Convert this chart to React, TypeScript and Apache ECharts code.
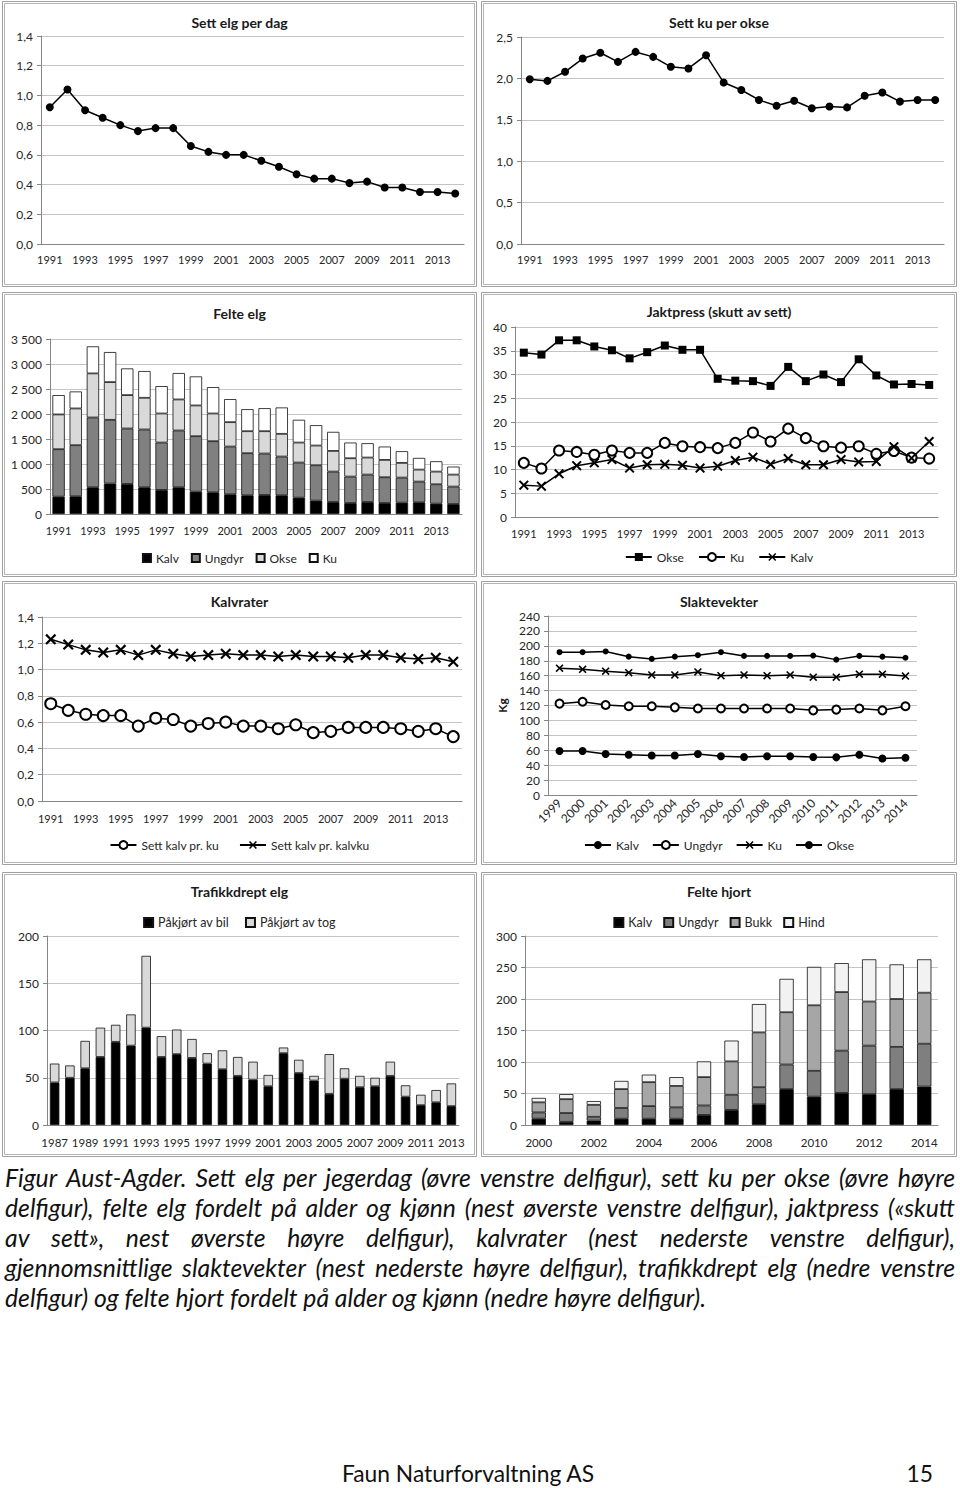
import React, { useEffect, useRef } from "react";
import * as echarts from "echarts";

const FONT = "Lato, 'Open Sans', 'DejaVu Sans', sans-serif";
const TXT = "#262626";
const AXIS = "#868686";
const GRIDC = "#c4c4c4";

// ---------- categories ----------
const years91 = ["1991","1992","1993","1994","1995","1996","1997","1998","1999","2000","2001","2002","2003","2004","2005","2006","2007","2008","2009","2010","2011","2012","2013","2014"];
const years87 = ["1987","1988","1989","1990","1991","1992","1993","1994","1995","1996","1997","1998","1999","2000","2001","2002","2003","2004","2005","2006","2007","2008","2009","2010","2011","2012","2013"];
const years99 = ["1999","2000","2001","2002","2003","2004","2005","2006","2007","2008","2009","2010","2011","2012","2013","2014"];
const years00 = ["2000","2001","2002","2003","2004","2005","2006","2007","2008","2009","2010","2011","2012","2013","2014"];

// ---------- Sett elg per dag ----------
const settElgPerDag = [0.92,1.04,0.90,0.85,0.80,0.76,0.78,0.78,0.66,0.62,0.60,0.60,0.56,0.52,0.47,0.44,0.44,0.41,0.42,0.38,0.38,0.35,0.35,0.34];
// ---------- Sett ku per okse ----------
const settKuPerOkse = [1.99,1.97,2.08,2.24,2.31,2.20,2.32,2.26,2.14,2.12,2.28,1.95,1.86,1.74,1.67,1.73,1.64,1.66,1.65,1.79,1.83,1.72,1.74,1.74];

// ---------- Felte elg ----------
const felteKalv = [347,354,534,608,601,534,481,534,447,434,394,374,381,374,327,267,240,220,240,220,227,234,207,200];
const felteUngdyr = [949,1022,1396,1275,1109,1156,948,1136,1109,1022,955,842,828,775,702,708,608,528,548,515,501,414,387,348];
const felteOkse = [695,735,882,755,668,634,581,621,615,554,488,440,447,454,400,394,414,367,341,347,294,240,254,240];
const felteKu = [387,340,541,601,534,535,548,528,581,528,461,441,461,528,455,408,381,314,287,267,234,234,207,160];

// ---------- Jaktpress ----------
const jpOkse = [34.6,34.2,37.2,37.2,35.9,35.1,33.4,34.7,36.1,35.2,35.2,29.1,28.7,28.6,27.6,31.6,28.6,30.0,28.4,33.2,29.8,27.9,28.0,27.8];
const jpKu = [11.4,10.2,14.0,13.7,13.1,14.0,13.5,13.5,15.6,14.9,14.7,14.5,15.6,17.8,15.9,18.6,16.6,14.9,14.6,14.9,13.3,13.9,12.5,12.3];
const jpKalv = [6.7,6.5,9.1,10.8,11.4,12.1,10.3,11.0,11.1,10.9,10.3,10.7,11.9,12.6,11.1,12.3,11.0,11.0,12.1,11.6,11.7,14.8,12.4,15.9];

// ---------- Kalvrater ----------
const kalvPerKu = [0.74,0.69,0.66,0.65,0.65,0.57,0.63,0.62,0.57,0.59,0.60,0.57,0.57,0.55,0.58,0.52,0.53,0.56,0.56,0.56,0.55,0.53,0.55,0.49];
const kalvPerKalvku = [1.23,1.19,1.15,1.13,1.15,1.11,1.15,1.12,1.10,1.11,1.12,1.11,1.11,1.10,1.11,1.10,1.10,1.09,1.11,1.11,1.09,1.08,1.09,1.06];

// ---------- Slaktevekter ----------
const kgKalv = [59,59,55,54,53,53,55,52,51,52,52,51,50.5,54,49,50];
const kgUngdyr = [122.5,125,120.7,119,119,117.5,116,116,116,116,116,113.5,114.5,116,113.5,119];
const kgKu = [170,168.5,166,164,161,161,165,160,161,160,161,158,158,162,162,159.5];
const kgOkse = [191.5,191.5,192.5,185.5,182.5,185.5,187.5,191.5,186.5,186.5,186.5,187,181.5,186.5,185.5,184];

// ---------- Trafikkdrept elg ----------
const trafBil = [45,50,60,72,88,84,103,72,75,71,65,59,52,48,41,76,55,47,33,49,40,41,52,30,21,24,20];
const trafTog = [20,13,29,31,18,33,76,22,26,20,11,20,20,19,12,6,14,5,42,11,12,9,15,12,11,13,24];

// ---------- Felte hjort ----------
const hjortKalv = [10,5,7,10,10,10,16,24,33,57,45,51,49,57,61];
const hjortUngdyr = [10,14,6,17,20,18,15,24,27,39,41,67,77,67,68];
const hjortBukk = [16,22,19,30,38,34,45,53,87,83,104,93,70,76,81];
const hjortHind = [7,8,6,13,12,14,25,33,45,53,61,46,67,55,53];

// ---------- caption ----------
const captionLines = [
  "Figur Aust-Agder. Sett elg per jegerdag (øvre venstre delfigur), sett ku per okse (øvre høyre",
  "delfigur), felte elg fordelt på alder og kjønn (nest øverste venstre delfigur), jaktpress («skutt",
  "av sett», nest øverste høyre delfigur), kalvrater (nest nederste venstre delfigur),",
  "gjennomsnittlige slaktevekter (nest nederste høyre delfigur), trafikkdrept elg (nedre venstre",
  "delfigur) og felte hjort fordelt på alder og kjønn (nedre høyre delfigur).",
];
const footerLeft = "Faun Naturforvaltning AS";
const footerRight = "15";

// ---------- helpers ----------
const XSYM = "path://M0,1.4L1.4,0L5,3.6L8.6,0L10,1.4L6.4,5L10,8.6L8.6,10L5,6.4L1.4,10L0,8.6L3.6,5Z";
const dec = (d: number) => (v: number) => v.toFixed(d).replace(".", ",");
const thousands = (v: number) =>
  v >= 1000 ? Math.floor(v / 1000) + " " + String(v % 1000).padStart(3, "0") : String(v);

function frame(w: number, h: number) {
  return [
    { type: "rect", silent: true, shape: { x: 0.5, y: 0.5, width: w - 1, height: h - 1 }, style: { fill: "none", stroke: "#a0a0a0", lineWidth: 1 } },
    { type: "rect", silent: true, shape: { x: 2.5, y: 2.5, width: w - 5, height: h - 5 }, style: { fill: "none", stroke: "#b4b4b4", lineWidth: 1 } },
  ];
}
const title = (text: string, cy: number) => ({
  text, left: "center", top: cy - 8, padding: 0,
  textStyle: { fontFamily: FONT, fontSize: 14, fontWeight: "bold", color: "#1a1a1a" },
});
const xCat = (data: string[], label: any = {}) => ({
  type: "category", data, boundaryGap: true,
  axisLine: { show: true, lineStyle: { color: AXIS, width: 1 } },
  axisTick: { show: false },
  splitLine: { show: false },
  axisLabel: { interval: 1, color: TXT, fontFamily: FONT, fontSize: 11, margin: 11, ...label },
});
const yVal = (max: number, interval: number, formatter: any, extra: any = {}) => ({
  type: "value", min: 0, max, interval,
  axisLine: { show: true, lineStyle: { color: AXIS } },
  axisTick: { show: true, length: 4, lineStyle: { color: AXIS } },
  splitLine: { show: true, lineStyle: { color: GRIDC, width: 1 } },
  axisLabel: { formatter, color: TXT, fontFamily: FONT, fontSize: 12, margin: 8 },
  ...extra,
});
const legend = (cy: number, extra: any = {}) => ({
  top: cy - 7, left: "center", padding: 0, itemGap: 12,
  textStyle: { fontFamily: FONT, fontSize: 12, color: TXT },
  ...extra,
});
const line = (name: string, data: number[], symbol: string, symbolSize: number, empty = false) => ({
  type: "line", name, data, symbol, symbolSize, showSymbol: true,
  lineStyle: { color: "#000", width: 1.5 },
  itemStyle: { color: "#000", borderColor: "#000", borderWidth: empty ? 1.3 : 0 },
  z: 3,
});
const bar = (name: string, data: number[], color: string, gap: string) => ({
  type: "bar", name, data, stack: "s", barCategoryGap: gap,
  itemStyle: { color, borderColor: "#111", borderWidth: 0.8 },
});

// ---------- option builders ----------
const opt1 = (w: number, h: number) => ({
  animation: false,
  graphic: frame(w, h),
  title: title("Sett elg per dag", 22),
  grid: { left: 39, top: 35, width: 423, height: 208 },
  xAxis: xCat(years91, { margin: 10 }),
  yAxis: yVal(1.4, 0.2, dec(1)),
  series: [line("Sett elg per dag", settElgPerDag, "circle", 8)],
});
const opt2 = (w: number, h: number) => ({
  animation: false,
  graphic: frame(w, h),
  title: title("Sett ku per okse", 22),
  grid: { left: 40, top: 36, width: 423, height: 207 },
  xAxis: xCat(years91, { margin: 10 }),
  yAxis: yVal(2.5, 0.5, dec(1)),
  series: [line("Sett ku per okse", settKuPerOkse, "circle", 8)],
});
const opt3 = (w: number, h: number) => ({
  animation: false,
  graphic: frame(w, h),
  title: title("Felte elg", 22),
  legend: legend(267, { icon: "rect", itemWidth: 8, itemHeight: 8, itemGap: 12 }),
  grid: { left: 48, top: 47, width: 412, height: 175 },
  xAxis: xCat(years91),
  yAxis: yVal(3500, 500, thousands),
  series: [
    bar("Kalv", felteKalv, "#000000", "28%"),
    bar("Ungdyr", felteUngdyr, "#808080", "28%"),
    bar("Okse", felteOkse, "#d9d9d9", "28%"),
    bar("Ku", felteKu, "#ffffff", "28%"),
  ],
});
const opt4 = (w: number, h: number) => ({
  animation: false,
  graphic: frame(w, h),
  title: title("Jaktpress (skutt av sett)", 20),
  legend: legend(266, { itemWidth: 26, itemHeight: 10, itemGap: 14 }),
  grid: { left: 34, top: 35, width: 423, height: 190 },
  xAxis: xCat(years91),
  yAxis: yVal(40, 5, (v: number) => String(v)),
  series: [
    line("Okse", jpOkse, "rect", 8),
    line("Ku", jpKu, "emptyCircle", 10, true),
    line("Kalv", jpKalv, XSYM, 10),
  ],
});
const opt5 = (w: number, h: number) => ({
  animation: false,
  graphic: frame(w, h),
  title: title("Kalvrater", 21),
  legend: legend(265, { itemWidth: 26, itemHeight: 10, itemGap: 20 }),
  grid: { left: 40, top: 36, width: 420, height: 184 },
  xAxis: xCat(years91, { margin: 12 }),
  yAxis: yVal(1.4, 0.2, dec(1)),
  series: [
    line("Sett kalv pr. ku", kalvPerKu, "emptyCircle", 11, true),
    line("Sett kalv pr. kalvku", kalvPerKalvku, XSYM, 11),
  ],
});
const opt6 = (w: number, h: number) => ({
  animation: false,
  graphic: frame(w, h),
  title: title("Slaktevekter", 21),
  legend: legend(265, { itemWidth: 26, itemHeight: 10, itemGap: 13 }),
  grid: { left: 67, top: 35, width: 369, height: 179 },
  xAxis: xCat(years99, { interval: 0, rotate: 45, margin: 6, fontSize: 12 }),
  yAxis: yVal(240, 20, (v: number) => String(v), {
    name: "Kg", nameLocation: "middle", nameGap: 40, nameRotate: 90,
    nameTextStyle: { fontFamily: FONT, fontSize: 12, fontWeight: "bold", color: "#1a1a1a" },
  }),
  series: [
    line("Kalv", kgKalv, "circle", 8),
    line("Ungdyr", kgUngdyr, "emptyCircle", 8, true),
    line("Ku", kgKu, XSYM, 8),
    line("Okse", kgOkse, "circle", 6),
  ],
});
const opt7 = (w: number, h: number) => ({
  animation: false,
  graphic: frame(w, h),
  title: title("Trafikkdrept elg", 20),
  legend: legend(51, { icon: "rect", itemWidth: 9, itemHeight: 9, itemGap: 16, textStyle: { fontFamily: FONT, fontSize: 12.5, color: TXT } }),
  grid: { left: 45, top: 64, width: 412, height: 189 },
  xAxis: xCat(years87, { fontSize: 11.5 }),
  yAxis: yVal(200, 50, (v: number) => String(v)),
  series: [
    bar("Påkjørt av bil", trafBil, "#000000", "38%"),
    bar("Påkjørt av tog", trafTog, "#d9d9d9", "38%"),
  ],
});
const opt8 = (w: number, h: number) => ({
  animation: false,
  graphic: frame(w, h),
  title: title("Felte hjort", 20),
  legend: legend(51, { icon: "rect", itemWidth: 9, itemHeight: 9, itemGap: 11, textStyle: { fontFamily: FONT, fontSize: 12.5, color: TXT } }),
  grid: { left: 44, top: 64, width: 413, height: 189 },
  xAxis: xCat(years00, { fontSize: 11.5 }),
  yAxis: yVal(300, 50, (v: number) => String(v)),
  series: [
    bar("Kalv", hjortKalv, "#000000", "48%"),
    bar("Ungdyr", hjortUngdyr, "#7f7f7f", "48%"),
    bar("Bukk", hjortBukk, "#a6a6a6", "48%"),
    bar("Hind", hjortHind, "#f2f2f2", "48%"),
  ],
});

function ChartBox({ box, build }: { box: number[]; build: (w: number, h: number) => any }) {
  const ref = useRef<HTMLDivElement>(null);
  useEffect(() => {
    const chart = echarts.init(ref.current!, null, { renderer: "svg" });
    chart.setOption(build(box[2], box[3]));
    return () => chart.dispose();
  }, []);
  return (
    <div
      ref={ref}
      style={{ position: "absolute", left: box[0], top: box[1], width: box[2], height: box[3] }}
    />
  );
}

function Caption() {
  const ref = useRef<HTMLDivElement>(null);
  useEffect(() => {
    const chart = echarts.init(ref.current!, null, { renderer: "svg" });
    const ctx = document.createElement("canvas").getContext("2d")!;
    const left = 5;
    const right = 955;
    const measureAt = (t: string, size: number, italic: boolean) => {
      ctx.font = `${italic ? "italic " : ""}${size}px Lato`;
      return ctx.measureText(t).width;
    };
    // size the caption so the last (unjustified) line matches the reference width
    const lastLine = captionLines[captionLines.length - 1];
    let fs = 20 * 702 / measureAt(lastLine, 20, true);
    const widest = () => Math.max(...captionLines.map((l) => measureAt(l, fs, true)));
    while (widest() > right - left - 10 && fs > 12) fs -= 0.25;
    const footFs = 21 * 253 / measureAt(footerLeft, 21, false);

    const elements: any[] = [];
    const baseStyle = {
      fontFamily: "Lato", fontStyle: "italic", fontSize: fs, fill: "#111",
      verticalAlign: "middle", textVerticalAlign: "middle", align: "left", textAlign: "left",
    };
    captionLines.forEach((ln, i) => {
      const y = 19 + i * 30;
      if (i === captionLines.length - 1) {
        elements.push({ type: "text", x: left, y, style: { ...baseStyle, text: ln } });
        return;
      }
      const words = ln.split(" ");
      const widths = words.map((wd) => measureAt(wd, fs, true));
      const total = widths.reduce((a, b) => a + b, 0);
      const gap = (right - left - total) / (words.length - 1);
      let x = left;
      words.forEach((wd, j) => {
        elements.push({ type: "text", x, y, style: { ...baseStyle, text: wd } });
        x += widths[j] + gap;
      });
    });
    elements.push({
      type: "text", x: 342, y: 315,
      style: { fontFamily: "Lato", fontSize: footFs, fill: "#111", text: footerLeft, verticalAlign: "middle", textVerticalAlign: "middle" },
    });
    elements.push({
      type: "text", x: 933, y: 315,
      style: { fontFamily: "Lato", fontSize: footFs, fill: "#111", text: footerRight, verticalAlign: "middle", textVerticalAlign: "middle", align: "right", textAlign: "right" },
    });
    chart.setOption({ animation: false, graphic: elements });
    return () => chart.dispose();
  }, []);
  return <div ref={ref} style={{ position: "absolute", left: 0, top: 1158, width: 960, height: 330 }} />;
}

export default function App() {
  return (
    <div style={{ position: "absolute", left: 0, top: 0, width: 960, height: 1488, background: "#fff" }}>
      <ChartBox box={[2, 1, 475, 286]} build={opt1} />
      <ChartBox box={[481, 1, 476, 286]} build={opt2} />
      <ChartBox box={[2, 292, 475, 285]} build={opt3} />
      <ChartBox box={[481, 292, 476, 285]} build={opt4} />
      <ChartBox box={[2, 581, 475, 284]} build={opt5} />
      <ChartBox box={[481, 581, 476, 284]} build={opt6} />
      <ChartBox box={[2, 872, 475, 285]} build={opt7} />
      <ChartBox box={[481, 872, 476, 285]} build={opt8} />
      <Caption />
    </div>
  );
}
